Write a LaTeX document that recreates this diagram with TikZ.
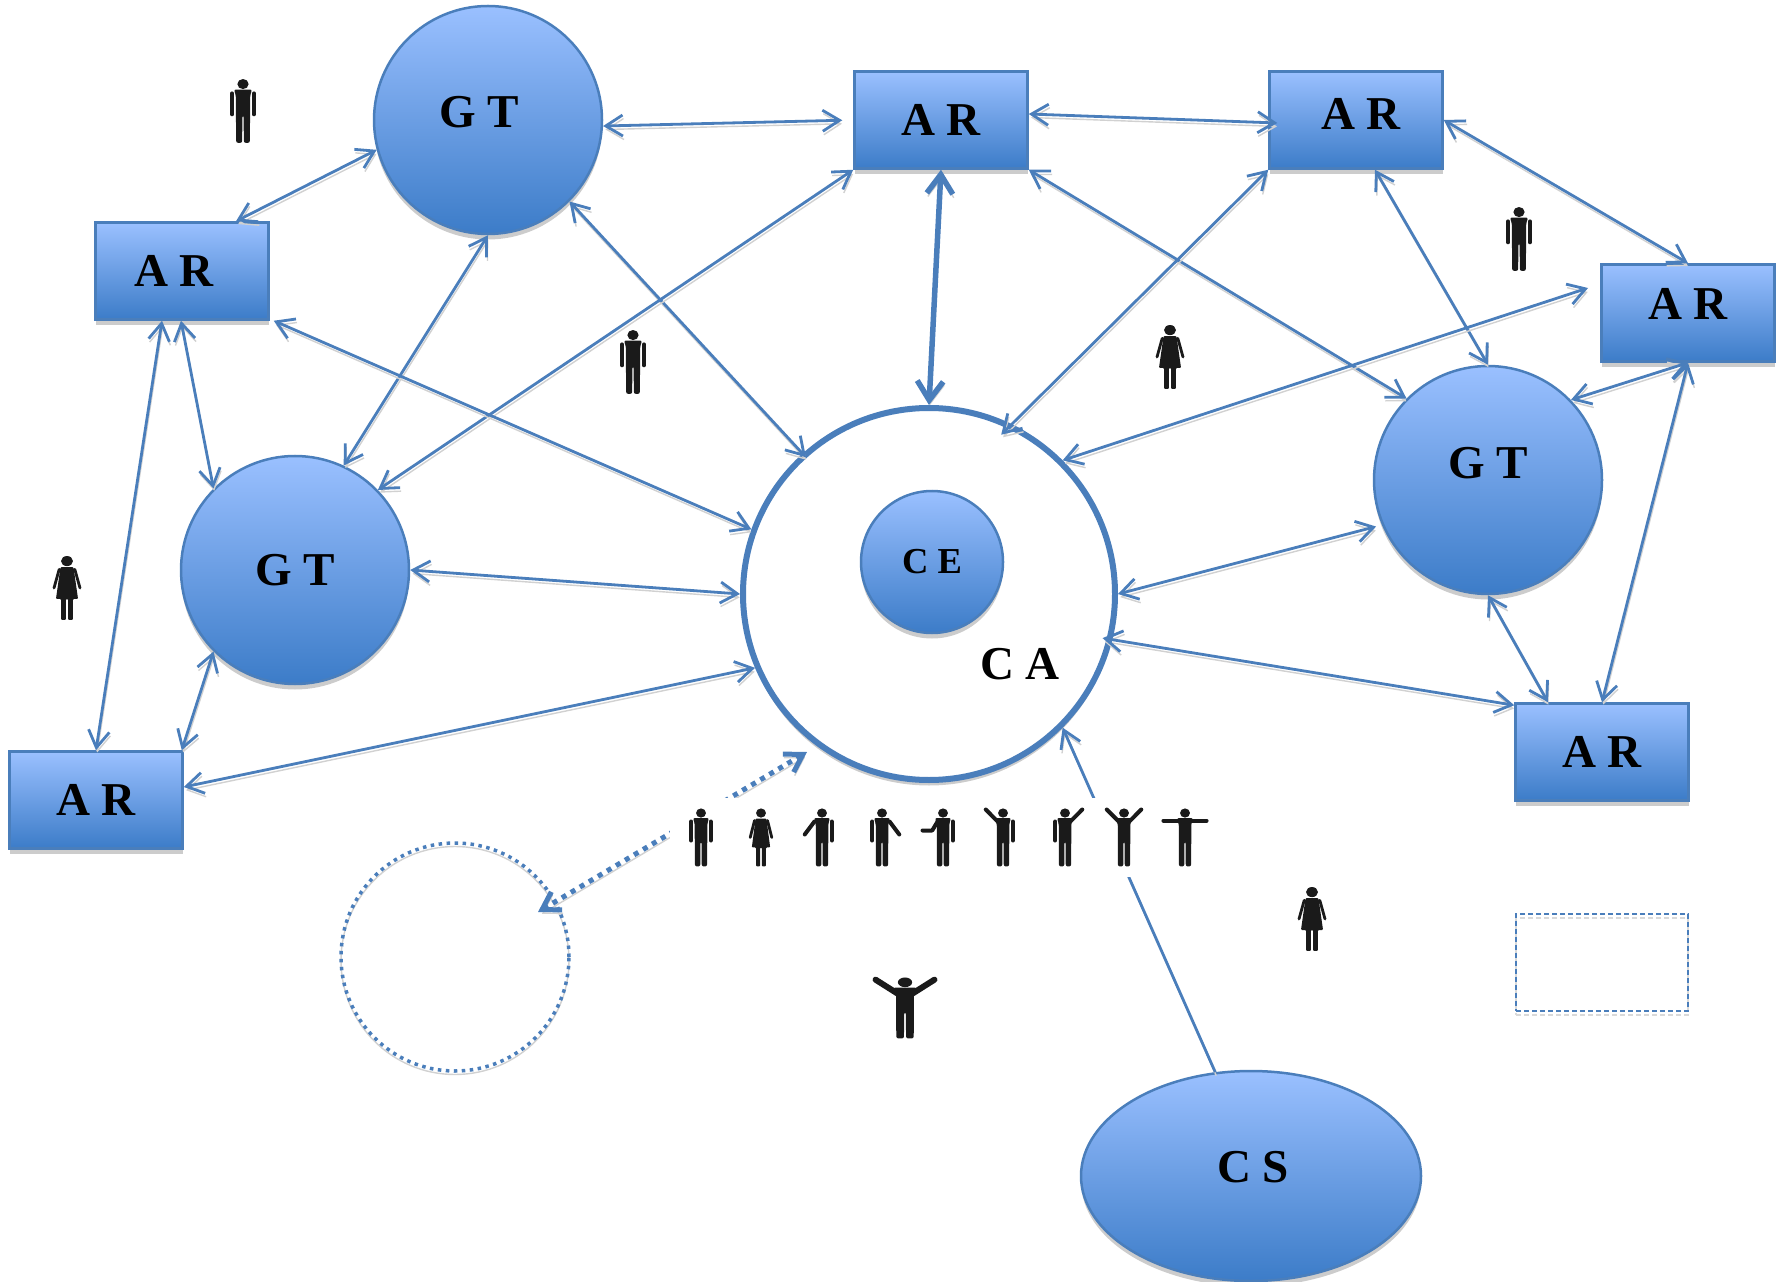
\documentclass[tikz,border=0pt]{standalone}
\usepackage{fontspec}
\setmainfont{Liberation Serif}
\usetikzlibrary{
    arrows.meta,
    shadows,
    shapes.geometric
}
\definecolor{linkblue}{RGB}{74,126,187}
\definecolor{topblue}{RGB}{154,192,255}
\definecolor{midblue}{RGB}{118,164,232}
\definecolor{lowblue}{RGB}{60,124,200}
\definecolor{figblack}{RGB}{26,26,26}
\tikzset{
    lbl/.style={font=\fontsize{13.4}{15}\selectfont\bfseries, text=black, inner sep=0cm},
    softshadow/.style={drop shadow={shadow xshift=0cm, shadow yshift=-0.055cm, fill=black!20, opacity=1}},
    bluefill/.style={draw=linkblue, line width=0.025cm, top color=topblue, middle color=midblue, bottom color=lowblue, softshadow, lbl},
    gt/.style={bluefill, circle, minimum size=2.28cm},
    ar/.style={bluefill, rectangle, minimum width=1.73cm, minimum height=0.97cm},
    linkshadow/.style={preaction={draw=black!18, transform canvas={xshift=0.01cm, yshift=-0.035cm}}},
    link/.style={draw=linkblue, line width=0.028cm, >={Straight Barb[length=0.17cm, width=0.21cm]}, linkshadow},
    linkthick/.style={link, line width=0.055cm, >={Straight Barb[length=0.19cm, width=0.26cm]}},
    linkdot/.style={link, line width=0.05cm, dash pattern=on 0.05cm off 0.055cm},
    armwidth/.store in=\armwidth, armwidth=0.04cm,
    pics/figure/.style 2 args={code={
        \begin{scope}[x=0.01cm, y=0.01cm]
            \fill[figblack] (0,24.5) circle[radius=4.6];
            \fill[figblack, rounded corners=0.02cm] (-7.5,19.5) -- (7.5,19.5) -- (5.8,14) -- (5.8,-3) -- (5.6,-29) -- (0.7,-29) -- (0.5,-4) -- (-0.5,-4) -- (-0.7,-29) -- (-5.6,-29) -- (-5.8,-3) -- (-5.8,14) -- cycle;
            \draw[figblack, line width=\armwidth, line cap=round, line join=round] #1;
            \draw[figblack, line width=\armwidth, line cap=round, line join=round] #2;
        \end{scope}
    }},
    pics/woman/.style={code={
        \begin{scope}[x=0.01cm, y=0.01cm]
            \fill[figblack] (0,24.5) circle[radius=4.6];
            \fill[figblack, rounded corners=0.01cm] (-5,19) -- (5,19) -- (8.5,-10) -- (4.6,-10) -- (4.6,-29) -- (0.8,-29) -- (0.8,-10) -- (-0.8,-10) -- (-0.8,-29) -- (-4.6,-29) -- (-4.6,-10) -- (-8.5,-10) -- cycle;
            \draw[figblack, line width=0.028cm, line cap=round] (-6,17) -- (-10,0);
            \draw[figblack, line width=0.028cm, line cap=round] (6,17) -- (10,0);
        \end{scope}
    }}
}
\newcommand{\armdownl}{(-9,16) -- (-9,-3)}
\newcommand{\armdownr}{(9,16) -- (9,-3)}
\begin{document}
\begin{tikzpicture}
    \path[use as bounding box] (0,0) rectangle (17.87,-12.82);

    \node[gt, label={[lbl, xshift=-0.09cm, yshift=0.08cm]center:G T}] (gt top) at (4.88,-1.20) {};
    \node[gt] (gt left) at (2.95,-5.70) {G T};
    \node[gt, label={[lbl, yshift=0.17cm]center:G T}] (gt right) at (14.88,-4.80) {};

    \node[ar] (ar mid) at (9.41,-1.20) {A R};
    \node[ar, label={[lbl, xshift=0.05cm, yshift=0.06cm]center:A R}] (ar upper) at (13.56,-1.20) {};
    \node[ar, label={[lbl, xshift=-0.08cm]center:A R}] (ar left) at (1.82,-2.71) {};
    \node[ar, label={[lbl, yshift=0.09cm]center:A R}] (ar far) at (16.88,-3.13) {};
    \node[ar] (ar low left) at (0.96,-8.00) {A R};
    \node[ar] (ar low right) at (16.02,-7.52) {A R};

    \node[circle, draw=linkblue, line width=0.06cm, fill=white, minimum size=3.72cm, softshadow] (ca) at (9.29,-5.94) {};
    \node[bluefill, circle, minimum size=1.42cm, font=\fontsize{10.4}{12}\selectfont\bfseries] (ce) at (9.32,-5.62) {C E};
    \node[lbl] (ca text) at (10.20,-6.64) {C A};

    \node[bluefill, ellipse, minimum width=3.40cm, minimum height=2.10cm, label={[lbl, xshift=0.02cm, yshift=0.09cm]center:C S}] (cs) at (12.51,-11.76) {};

    \node[circle, minimum size=2.28cm, inner sep=0cm] (dot circle) at (4.55,-9.57) {};
    \draw[draw=linkblue, line width=0.035cm, dash pattern=on 0.035cm off 0.045cm, preaction={draw=black!18, transform canvas={yshift=-0.035cm}}] (dot circle.center) circle[radius=1.14cm];
    \node[rectangle, draw=linkblue, line width=0.02cm, dash pattern=on 0.05cm off 0.03cm, minimum width=1.72cm, minimum height=0.97cm, inner sep=0cm, preaction={draw=black!15, transform canvas={yshift=-0.045cm}}] (dash box) at (16.02,-9.62) {};

    \coordinate (far gap) at (15.88,-2.88);
    \coordinate (dot start) at (8.07,-7.52);
    \coordinate (dot end) at (5.38,-9.12);

    \draw[link, <->, shorten >=0.11cm] (gt top.-3)--(ar mid.west);
    \draw[link, <->] ([yshift=0.06cm]ar mid.east)--([xshift=0.09cm, yshift=-0.03cm]ar upper.west);
    \draw[link, <->] (ar upper.east)--(ar far.north);
    \draw[link, <->] ([xshift=0.54cm]ar left.north)--(gt top.195);
    \draw[link, <->] (gt top.south)--(gt left.65);
    \draw[link, <->, shorten >=-0.05cm] (gt top.-45)--(ca.132);
    \draw[link, <->] (gt left.44)--(ar mid.south west);
    \draw[linkthick, <->] (ar mid.south)--(ca.north);
    \draw[link, <->] (ar mid.south east)--(gt right.135);
    \draw[link, <->, shorten >=-0.15cm] (ar upper.south west)--(ca.64);
    \draw[link, <->] ([xshift=0.19cm]ar upper.south)--(gt right.north);
    \draw[link, <->] (far gap)--(ca.45);
    \draw[link, <->] (ar far.south)--(gt right.44);
    \draw[link, <->] (ar far.south)--(ar low right.north);
    \draw[link, <->] (gt right.south)--([xshift=-0.54cm]ar low right.north);
    \draw[link, <->, shorten >=0.06cm] (ca.east)--(gt right.203);
    \draw[link, <->, shorten <=-0.10cm] (ca.-14)--([yshift=-0.03cm]ar low right.north west);
    \draw[link, ->] (cs.109)--(ca.-45);
    \draw[link, <->] ([yshift=0.13cm]ar low left.east)--(ca.203);
    \draw[link, <->] (gt left.east)--(ca.west);
    \draw[link, <->] ([xshift=0.04cm]ar left.south east)--(ca.160);
    \draw[link, <->] ([xshift=-0.01cm]ar left.south)--(gt left.135);
    \draw[link, <->] ([xshift=-0.20cm]ar left.south)--(ar low left.north);
    \draw[link, <->] (gt left.225)--([xshift=-0.02cm]ar low left.north east);
    \draw[linkdot, <->] (dot start)--(dot end);

    \node[fill=white, rectangle, minimum width=5.50cm, minimum height=0.79cm, inner sep=0cm] (people row) at (9.45,-8.375) {};

    \pic[xscale=1.08] (p1) at (7.01,-8.375) {figure={\armdownl}{\armdownr}};
    \pic[xscale=1.08] (p2) at (7.61,-8.375) {woman};
    \pic[xscale=1.08] (p3) at (8.22,-8.375) {figure={(-7,16) -- (-16,3)}{\armdownr}};
    \pic[xscale=1.08] (p4) at (8.82,-8.375) {figure={\armdownl}{(7,16) -- (16,3)}};
    \pic[xscale=1.08] (p5) at (9.43,-8.375) {figure={(-19,7) -- (-10,7) -- (-5,16)}{\armdownr}};
    \pic[xscale=1.08] (p6) at (10.03,-8.375) {figure={(-5,16) -- (-16,28)}{\armdownr}};
    \pic[xscale=1.08] (p7) at (10.65,-8.375) {figure={\armdownl}{(5,16) -- (16,28)}};
    \pic[xscale=1.08] (p8) at (11.24,-8.375) {figure={(-4,15) -- (-16,28)}{(4,15) -- (16,28)}};
    \pic[xscale=1.08] (p9) at (11.85,-8.375) {figure={(-20,17) -- (0,17)}{(0,17) -- (20,17)}};

    \pic[xscale=1.22, yscale=1.1] (m1) at (2.43,-1.11) {figure={\armdownl}{\armdownr}};
    \pic[xscale=1.22, yscale=1.1] (m2) at (6.33,-3.62) {figure={\armdownl}{\armdownr}};
    \pic[xscale=1.22, yscale=1.1] (m3) at (15.19,-2.39) {figure={\armdownl}{\armdownr}};
    \pic[xscale=1.3, yscale=1.1] (w1) at (11.70,-3.57) {woman};
    \pic[xscale=1.3, yscale=1.1] (w2) at (0.67,-5.88) {woman};
    \pic[xscale=1.3, yscale=1.1] (w3) at (13.12,-9.19) {woman};
    \pic[xscale=1.55, yscale=1.05, armwidth=0.06cm] (big) at (9.05,-10.08) {figure={(-4,13) -- (-19,27)}{(4,13) -- (19,27)}};
\end{tikzpicture}
\end{document}
